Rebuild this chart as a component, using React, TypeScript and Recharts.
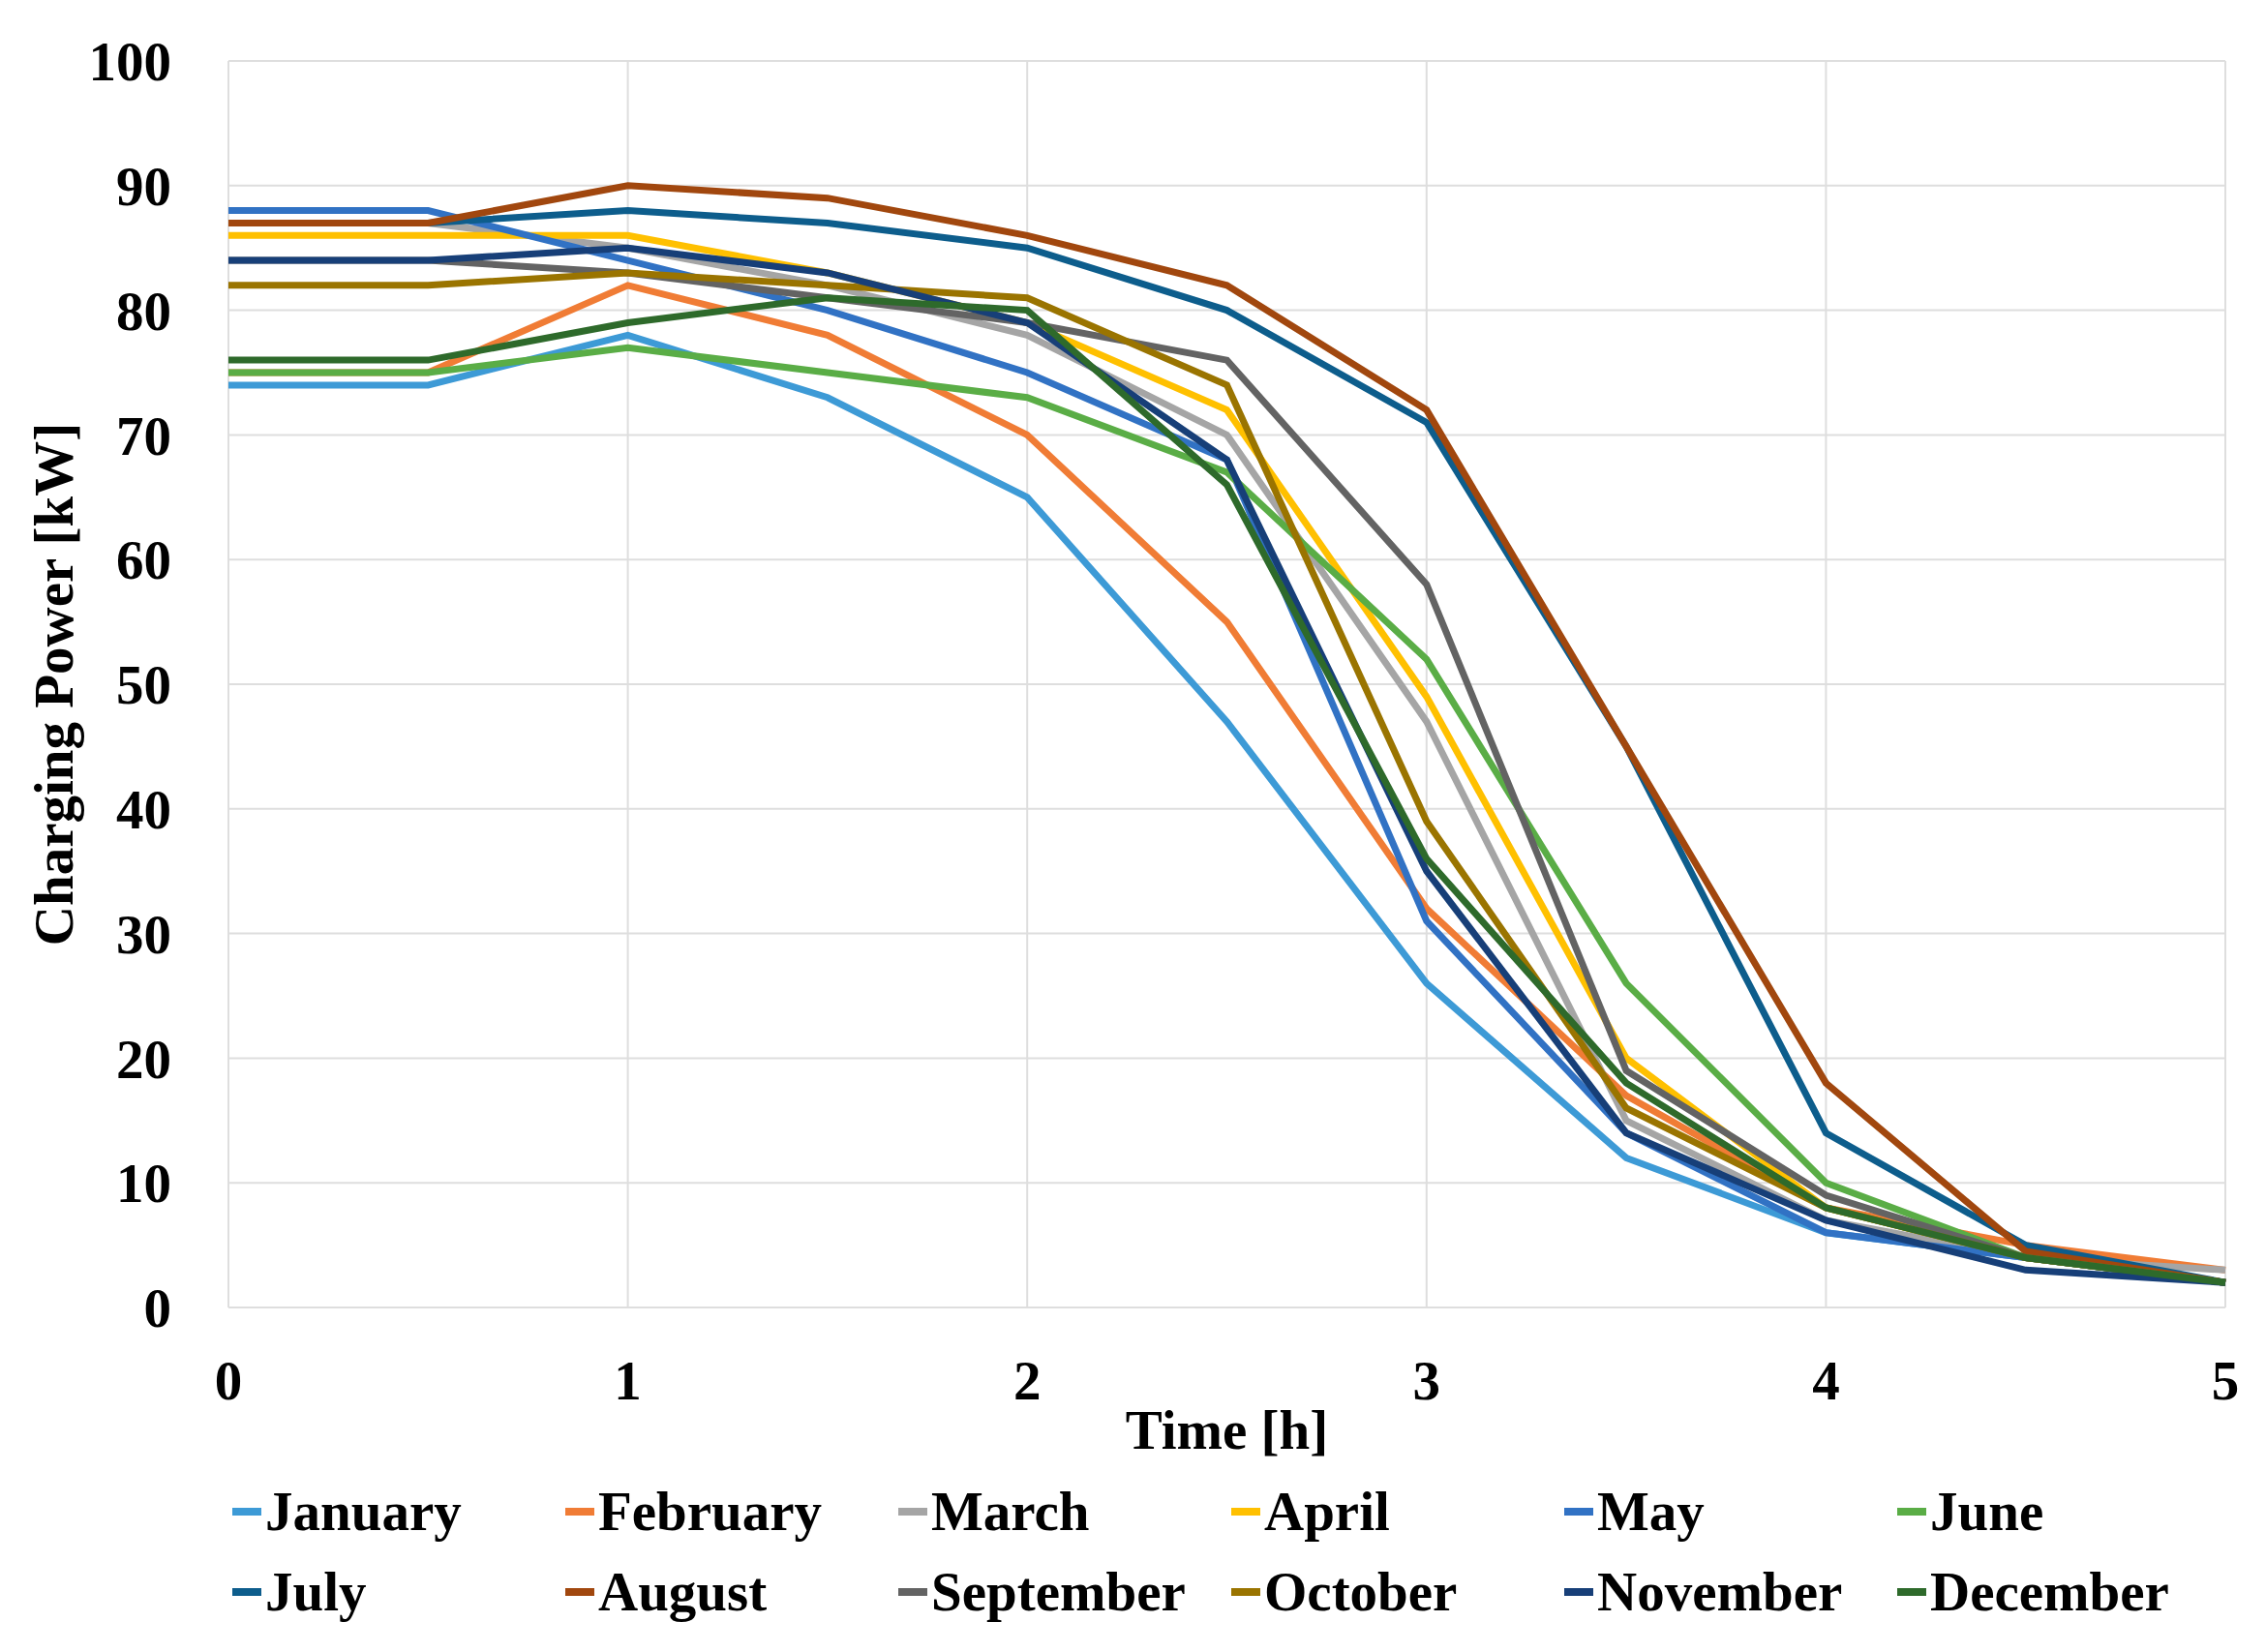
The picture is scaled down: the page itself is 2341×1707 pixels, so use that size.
import React from 'react';
import { LineChart, Line, XAxis, YAxis, CartesianGrid } from 'recharts';

const FONT = '"Liberation Serif", "Times New Roman", serif';

const times = [0, 0.5, 1, 1.5, 2, 2.5, 3, 3.5, 4, 4.5, 5];

const january = [74, 74, 78, 73, 65, 47, 26, 12, 6, 4, 2];
const february = [75, 75, 82, 78, 70, 55, 32, 17, 8, 5, 3];
const march = [87, 87, 85, 82, 78, 70, 47, 15, 7, 4, 3];
const april = [86, 86, 86, 83, 79, 72, 49, 20, 8, 4, 2];
const may = [88, 88, 84, 80, 75, 68, 31, 14, 6, 4, 2];
const june = [75, 75, 77, 75, 73, 67, 52, 26, 10, 4, 2];
const july = [87, 87, 88, 87, 85, 80, 71, 45, 14, 5, 2];
const august = [87, 87, 90, 89, 86, 82, 72, 45, 18, 4.5, 2];
const september = [84, 84, 83, 81, 79, 76, 58, 19, 9, 4, 2];
const october = [82, 82, 83, 82, 81, 74, 39, 16, 8, 4, 2];
const november = [84, 84, 85, 83, 79, 68, 35, 14, 7, 3, 2];
const december = [76, 76, 79, 81, 80, 66, 36, 18, 8, 4, 2];

const xTicks = [0, 1, 2, 3, 4, 5];
const yTicks = [0, 10, 20, 30, 40, 50, 60, 70, 80, 90, 100];

const series = [
  { key: 'January', values: january, color: '#3d9ad6' },
  { key: 'February', values: february, color: '#f07c35' },
  { key: 'March', values: march, color: '#a5a5a5' },
  { key: 'April', values: april, color: '#ffc000' },
  { key: 'May', values: may, color: '#3172c4' },
  { key: 'June', values: june, color: '#5aad46' },
  { key: 'July', values: july, color: '#0d5d8c' },
  { key: 'August', values: august, color: '#a1470e' },
  { key: 'September', values: september, color: '#636363' },
  { key: 'October', values: october, color: '#9a7400' },
  { key: 'November', values: november, color: '#173f78' },
  { key: 'December', values: december, color: '#2e6a2b' },
];

const rows = times.map((t, i) => {
  const row: Record<string, number> = { t };
  series.forEach((s) => {
    row[s.key] = s.values[i];
  });
  return row;
});

const tickStyle = { fontSize: 57, fontWeight: 700, fill: '#000', fontFamily: FONT };

const XTitle = (props: any) => {
  const { viewBox } = props;
  return (
    <text
      x={viewBox.x + viewBox.width / 2}
      y={viewBox.y + 146}
      textAnchor="middle"
      fontSize={57}
      fontWeight={700}
      fontFamily={FONT}
      fill="#000"
    >
      Time [h]
    </text>
  );
};

const YTitle = (props: any) => {
  const { viewBox } = props;
  const cx = 55;
  const cy = viewBox.y + viewBox.height / 2;
  return (
    <text
      x={cx}
      y={cy}
      transform={`rotate(-90, ${cx}, ${cy})`}
      textAnchor="middle"
      dominantBaseline="central"
      fontSize={57}
      fontWeight={700}
      fontFamily={FONT}
      fill="#000"
    >
      Charging Power [kW]
    </text>
  );
};

export default function App() {
  return (
    <div style={{ position: 'absolute', left: 0, top: 0, width: 2341, height: 1707, background: '#fff', fontFamily: FONT }}>
      <LineChart width={2341} height={1707} data={rows} margin={{ top: 63, right: 42, bottom: 0, left: 0 }}>
        <CartesianGrid stroke="#dedede" strokeWidth={2} />
        <XAxis
          dataKey="t"
          type="number"
          domain={[0, 5]}
          ticks={xTicks}
          height={356}
          axisLine={false}
          tickLine={false}
          tickSize={0}
          tickMargin={55}
          tick={tickStyle}
          label={<XTitle />}
        />
        <YAxis
          type="number"
          domain={[0, 100]}
          ticks={yTicks}
          width={236}
          axisLine={false}
          tickLine={false}
          tickSize={0}
          tickMargin={59}
          tick={tickStyle}
          label={<YTitle />}
        />
        {series.map((s) => (
          <Line
            key={s.key}
            dataKey={s.key}
            stroke={s.color}
            strokeWidth={7}
            dot={false}
            type="linear"
            isAnimationActive={false}
          />
        ))}
      </LineChart>
      <div
        style={{
          position: 'absolute',
          left: 240,
          top: 1520,
          display: 'grid',
          gridTemplateColumns: 'repeat(6, 344px)',
          gridAutoRows: '83px',
        }}
      >
        {series.map((s) => (
          <div key={s.key} style={{ display: 'flex', alignItems: 'center' }}>
            <span style={{ display: 'inline-block', width: 30, height: 8, background: s.color, marginRight: 4 }} />
            <span style={{ fontSize: 57, fontWeight: 700, color: '#000', lineHeight: '64px' }}>{s.key}</span>
          </div>
        ))}
      </div>
    </div>
  );
}
